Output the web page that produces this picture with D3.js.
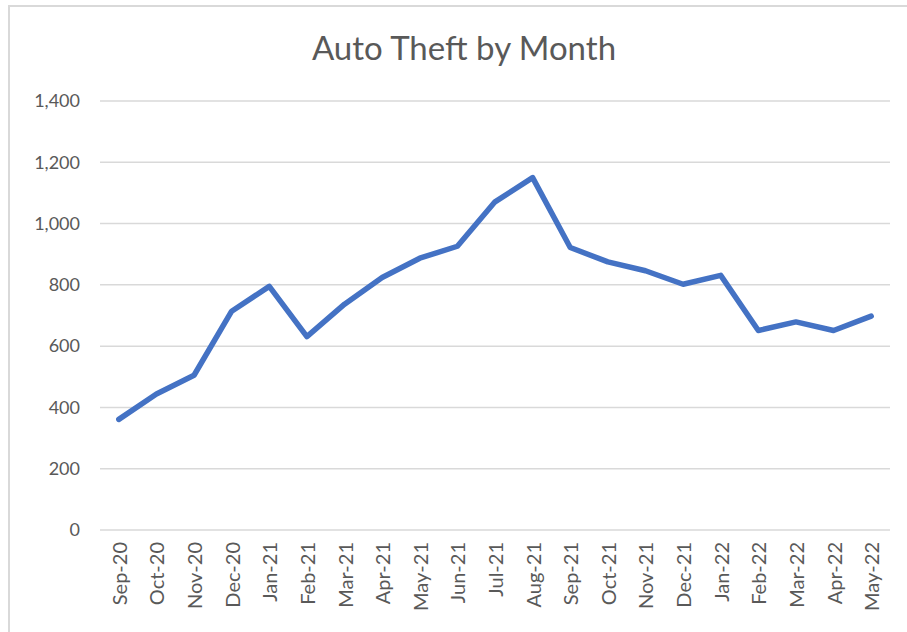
<!DOCTYPE html>
<html>
<head>
<meta charset="utf-8">
<script src="https://cdn.jsdelivr.net/npm/d3@7"></script>
<style>
  html, body { margin: 0; padding: 0; background: #fff; }
  svg { display: block; }
</style>
</head>
<body>
<svg id="chart" width="907" height="632"></svg>
<script>
const months = ["Sep-20","Oct-20","Nov-20","Dec-20","Jan-21","Feb-21","Mar-21","Apr-21","May-21","Jun-21","Jul-21","Aug-21","Sep-21","Oct-21","Nov-21","Dec-21","Jan-22","Feb-22","Mar-22","Apr-22","May-22"];
const thefts = [361, 444, 505, 714, 795, 631, 737, 824, 887, 926, 1071, 1150, 922, 875, 846, 802, 831, 651, 679, 651, 698];
const yTicks = [0, 200, 400, 600, 800, 1000, 1200, 1400];
const titleText = "Auto Theft by Month";

(function () {
const svg = d3.select("#chart");
const W = 907, H = 632;
const font = "Lato, 'Open Sans', sans-serif";

// chart border (cropped on right/bottom)
svg.append("rect")
  .attr("x", 9).attr("y", 6)
  .attr("width", W + 20).attr("height", H + 20)
  .attr("fill", "#fff")
  .attr("stroke", "#d9d9d9").attr("stroke-width", 2);

const mLeft = 100, mRight = 890, mTop = 101, mBottom = 530;

const x = d3.scaleBand().domain(months).range([mLeft, mRight]).padding(0);
const y = d3.scaleLinear().domain([0, 1400]).range([mBottom, mTop]);

// gridlines
svg.append("g").selectAll("line").data(yTicks).join("line")
  .attr("x1", mLeft).attr("x2", mRight)
  .attr("y1", d => y(d)).attr("y2", d => y(d))
  .attr("stroke", "#d9d9d9").attr("stroke-width", 1.5);

// y axis labels
const yAxis = d3.axisLeft(y).tickValues(yTicks).tickFormat(d3.format(",")).tickSize(0).tickPadding(20);
const gy = svg.append("g").attr("transform", `translate(${mLeft},0)`).call(yAxis);
gy.select(".domain").remove();
gy.selectAll("text").attr("font-family", font).attr("font-size", 18).attr("fill", "#595959");

// x axis labels
const xAxis = d3.axisBottom(x).tickSize(0).tickPadding(0);
const gx = svg.append("g").attr("transform", `translate(0,${mBottom})`).call(xAxis);
gx.select(".domain").remove();
gx.selectAll("text")
  .attr("font-family", font).attr("font-size", 20).attr("fill", "#595959")
  .attr("text-anchor", "end")
  .attr("dy", null)
  .attr("transform", "translate(0,12) rotate(-90)")
  .attr("x", 0).attr("y", 0)
  .attr("dominant-baseline", "central");

// line
const line = d3.line()
  .x((d, i) => x(months[i]) + x.bandwidth() / 2)
  .y(d => y(d));
svg.append("path").datum(thefts)
  .attr("d", line)
  .attr("fill", "none")
  .attr("stroke", "#4472c4")
  .attr("stroke-width", 5.5)
  .attr("stroke-linejoin", "round")
  .attr("stroke-linecap", "round");

// title
svg.append("text")
  .attr("x", 464).attr("y", 60)
  .attr("text-anchor", "middle")
  .attr("font-family", font).attr("font-size", 33)
  .attr("fill", "#595959")
  .text(titleText);
})();
</script>
</body>
</html>
